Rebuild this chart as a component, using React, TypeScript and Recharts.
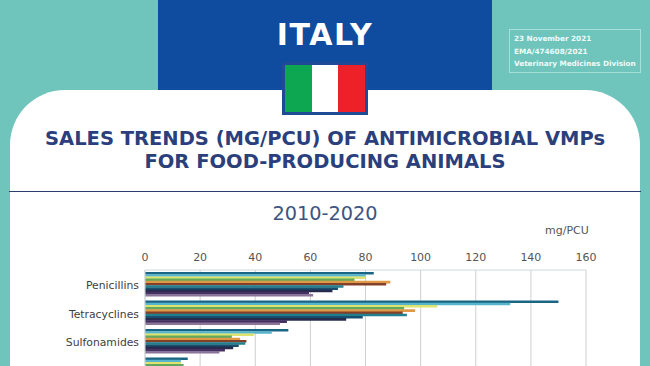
import { BarChart, Bar, XAxis, YAxis, CartesianGrid } from 'recharts'

// the fourth row's label falls below the crop of the reference, so it stays empty
const CATEGORIES = ['Penicillins', 'Tetracyclines', 'Sulfonamides', '']
const YEARS = ['2010', '2011', '2012', '2013', '2014', '2015', '2016', '2017', '2018', '2019', '2020']
const COLORS = ['#1a6484', '#56b4cc', '#dde36c', '#62a85e', '#e09a45', '#84412a', '#21808f', '#174f6e', '#262a4c', '#463262', '#8a7498']

const TICKS = [0, 20, 40, 60, 80, 100, 120, 140, 160]

const PENICILLINS = [83, 80, 80, 76, 89, 87.5, 72, 70, 68, 59.5, 61]
const TETRACYCLINES = [150, 132.5, 106, 94, 98, 93.5, 95, 79, 73, 51.5, 49]
const SULFONAMIDES = [52, 46, 39.5, 31.5, 34.5, 36.8, 36.4, 34, 32, 29, 27]
const ROW_FOUR = [15.5, 13, 13, 14, 13, 12, 17.5, 15, 12, 10, 9]

const SERIES = [PENICILLINS, TETRACYCLINES, SULFONAMIDES, ROW_FOUR]

const data = CATEGORIES.map((name, i) => {
  const row: Record<string, string | number> = { name }
  YEARS.forEach((y, j) => {
    row[y] = SERIES[i][j]
  })
  return row
})

const FONT = '"DejaVu Sans", Verdana, sans-serif'

export default function App() {
  return (
    <div style={{ position: 'fixed', left: 0, top: 0, width: 650, height: 366, overflow: 'hidden', background: '#6fc5bb', fontFamily: FONT }}>
      {/* header block */}
      <div style={{ position: 'absolute', left: 158, top: 0, width: 334, height: 90, background: '#0f4c9f' }} />
      <div style={{ position: 'absolute', left: 10, top: 90, width: 630, height: 320, background: '#fff', borderRadius: '55px 55px 0 0' }} />
      <div style={{ position: 'absolute', left: 158, top: 18, width: 334, textAlign: 'center', color: '#fff', fontWeight: 700, fontSize: 30, lineHeight: '34px', letterSpacing: 1.6 }}>
        ITALY
      </div>
      <div style={{ position: 'absolute', left: 282, top: 62, width: 80, height: 47, border: '3px solid #1f4a96', display: 'flex' }}>
        <div style={{ flex: 1, background: '#0ca750' }} />
        <div style={{ flex: 1, background: '#fff' }} />
        <div style={{ flex: 1, background: '#ee2128' }} />
      </div>
      <div style={{ position: 'absolute', left: 509, top: 29, width: 132, height: 44, border: '1px solid #a8dfd8', color: '#eefaf8', fontSize: 7.25, fontWeight: 700, lineHeight: '12.5px', paddingLeft: 4, paddingTop: 3, boxSizing: 'border-box', whiteSpace: 'nowrap' }}>
        23 November 2021
        <br />
        EMA/474608/2021
        <br />
        Veterinary Medicines Division
      </div>

      {/* titles */}
      <div style={{ position: 'absolute', left: 0, top: 127, width: 650, textAlign: 'center', color: '#2b3f7c', fontWeight: 700, fontSize: 19.5, lineHeight: '23px', whiteSpace: 'nowrap' }}>
        SALES TRENDS (MG/PCU) OF ANTIMICROBIAL VMPs
        <br />
        FOR FOOD-PRODUCING ANIMALS
      </div>
      <div style={{ position: 'absolute', left: 9, top: 191, width: 632, height: 1, background: '#2a3f6e' }} />
      <div style={{ position: 'absolute', left: 0, top: 202, width: 650, textAlign: 'center', color: '#3d5580', fontSize: 19.3, lineHeight: '24px' }}>
        2010-2020
      </div>
      <div style={{ position: 'absolute', left: 545, top: 224, color: '#555', fontSize: 11, lineHeight: '14px' }}>mg/PCU</div>

      <div style={{ position: 'absolute', left: 0, top: 239 }}>
        <BarChart
          width={650}
          height={149}
          data={data}
          layout="vertical"
          margin={{ top: 11, right: 64, bottom: 4, left: 10 }}
          barGap={-0.4}
          barSize={2.6}
        >
          <CartesianGrid horizontal={false} stroke="#cfcfcf" />
          <XAxis
            type="number"
            orientation="top"
            domain={[0, 160]}
            ticks={TICKS}
            height={20}
            axisLine={{ stroke: '#cfd8dc' }}
            tickLine={false}
            tickMargin={3}
            tick={{ fontSize: 11, fill: '#555', fontFamily: FONT }}
          />
          <YAxis
            type="category"
            dataKey="name"
            width={135}
            axisLine={{ stroke: '#cfd8dc' }}
            tickLine={false}
            tickMargin={0}
            tick={{ fontSize: 10.8, fill: '#404040', fontFamily: FONT, dy: 1 }}
          />
          {YEARS.map((y, i) => (
            <Bar key={y} dataKey={y} fill={COLORS[i]} isAnimationActive={false} />
          ))}
        </BarChart>
      </div>
    </div>
  )
}
